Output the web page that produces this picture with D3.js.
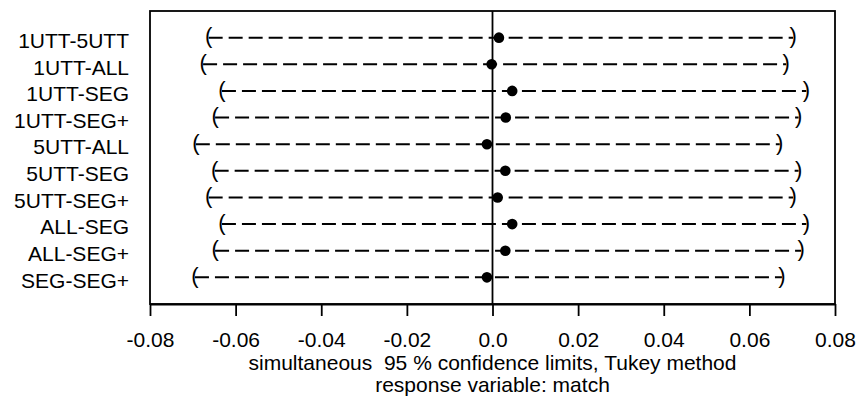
<!DOCTYPE html>
<html>
<head>
<meta charset="utf-8">
<script src="https://cdn.jsdelivr.net/npm/d3@7"></script>
<style>
  html, body { margin: 0; padding: 0; background: #fff; }
  svg { display: block; font-family: "Liberation Sans", Arial, Helvetica, sans-serif; }
</style>
</head>
<body>
<svg id="chart" width="858" height="401"></svg>
<script>
const comparisons = ["1UTT-5UTT", "1UTT-ALL", "1UTT-SEG", "1UTT-SEG+", "5UTT-ALL",
                     "5UTT-SEG", "5UTT-SEG+", "ALL-SEG", "ALL-SEG+", "SEG-SEG+"];
const estimates = [0.0015, -0.0002, 0.0046, 0.0031, -0.0013, 0.0030, 0.0012, 0.0046, 0.0030, -0.0013];
const lowerLimits = [-0.0663, -0.0676, -0.0632, -0.0648, -0.0693, -0.0649, -0.0663, -0.0632, -0.0648, -0.0695];
const upperLimits = [0.0702, 0.0686, 0.0733, 0.0715, 0.0671, 0.0715, 0.0702, 0.0733, 0.0721, 0.0676];
const xTicks = [-0.08, -0.06, -0.04, -0.02, 0, 0.02, 0.04, 0.06, 0.08];
const xTickLabels = ["-0.08", "-0.06", "-0.04", "-0.02", "0.0", "0.02", "0.04", "0.06", "0.08"];
const subtitle1 = "simultaneous  95 % confidence limits, Tukey method";
const subtitle2 = "response variable: match";

const rows = comparisons.map((c, i) => ({
  name: c, est: estimates[i], lwr: lowerLimits[i], upr: upperLimits[i], pos: i + 1
}));

const svg = d3.select("#chart");
const mLeft = 150, mRight = 835, mTop = 11, mBottom = 304;
const fs = 21;

const x = d3.scaleLinear().domain([-0.08, 0.08]).range([mLeft, mRight]);
const y = d3.scaleLinear().domain([0, 11]).range([mTop, mBottom]);

// box
svg.append("rect")
  .attr("x", mLeft).attr("y", mTop)
  .attr("width", mRight - mLeft).attr("height", mBottom - mTop)
  .attr("fill", "none").attr("stroke", "#000").attr("stroke-width", 1.8);

// zero reference line
svg.append("line")
  .attr("x1", x(0)).attr("x2", x(0))
  .attr("y1", mTop).attr("y2", mBottom)
  .attr("stroke", "#000").attr("stroke-width", 1.8);

// x axis
const xAxis = d3.axisBottom(x)
  .tickValues(xTicks)
  .tickFormat((d, i) => xTickLabels[i])
  .tickSizeInner(12).tickSizeOuter(0).tickPadding(17);
const gx = svg.append("g").attr("transform", `translate(0,${mBottom})`).call(xAxis);
gx.select(".domain").attr("stroke", "#000").attr("stroke-width", 1.8);
gx.selectAll(".tick line").attr("stroke", "#000").attr("stroke-width", 1.8);
gx.selectAll(".tick text")
  .attr("font-size", fs).attr("font-family", "Liberation Sans, Arial, sans-serif")
  .attr("fill", "#000").attr("dy", null).attr("y", 43);

// y labels
svg.append("g").selectAll("text")
  .data(rows).join("text")
  .attr("x", 129)
  .attr("y", d => y(d.pos) + 10.3)
  .attr("text-anchor", "end")
  .attr("font-size", fs)
  .attr("fill", "#000")
  .text(d => d.name);

// dashed interval lines
svg.append("g").selectAll("line")
  .data(rows).join("line")
  .attr("x1", d => x(d.lwr)).attr("x2", d => x(d.upr))
  .attr("y1", d => y(d.pos)).attr("y2", d => y(d.pos))
  .attr("stroke", "#000").attr("stroke-width", 2)
  .attr("stroke-dasharray", "14,6");

// brackets
svg.append("g").selectAll("text")
  .data(rows).join("text")
  .attr("x", d => x(d.lwr))
  .attr("y", d => y(d.pos) + 0.26 * 22)
  .attr("text-anchor", "middle")
  .attr("font-size", 22)
  .text("(");
svg.append("g").selectAll("text")
  .data(rows).join("text")
  .attr("x", d => x(d.upr))
  .attr("y", d => y(d.pos) + 0.26 * 22)
  .attr("text-anchor", "middle")
  .attr("font-size", 22)
  .text(")");

// estimate points
svg.append("g").selectAll("circle")
  .data(rows).join("circle")
  .attr("cx", d => x(d.est)).attr("cy", d => y(d.pos))
  .attr("r", 5.3).attr("fill", "#000");

// subtitles
svg.append("text")
  .attr("x", (mLeft + mRight) / 2).attr("y", 370)
  .attr("text-anchor", "middle").attr("font-size", fs)
  .style("white-space", "pre")
  .text(subtitle1);
svg.append("text")
  .attr("x", (mLeft + mRight) / 2).attr("y", 392)
  .attr("text-anchor", "middle").attr("font-size", fs)
  .text(subtitle2);
</script>
</body>
</html>
